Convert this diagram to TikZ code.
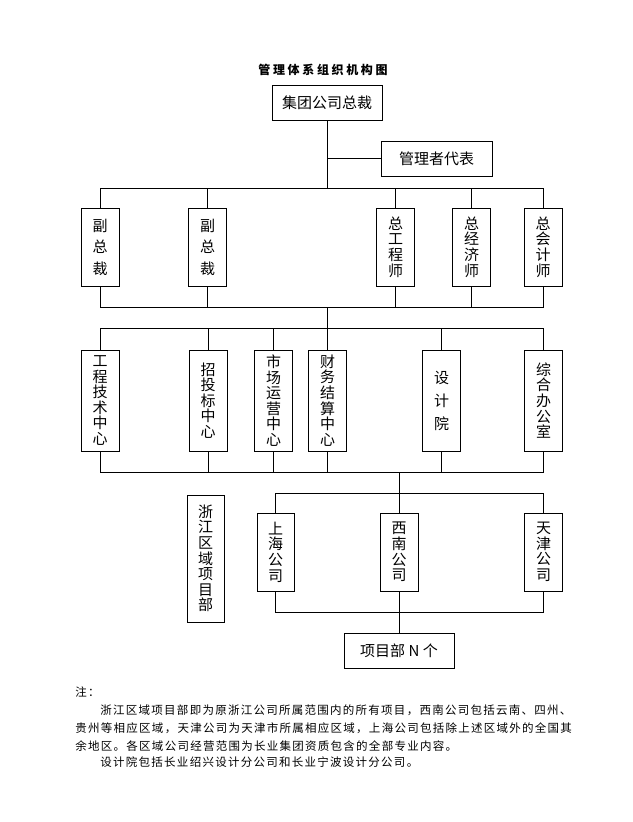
\documentclass[tikz,border=0pt]{standalone}
\usepackage{fontspec}
\usepackage{tikz}
\usetikzlibrary{calc,positioning}
\newfontfamily\cjk{Noto Sans CJK SC}

\begin{document}
\begin{tikzpicture}[x=1pt, y=-1pt, line width=0.8pt,
  every node/.style={inner sep=0pt, font=\cjk\fontsize{15}{15.6}\selectfont},
  box/.style={draw, minimum width=110pt, minimum height=35pt},
  vbox/.style={draw, align=center, minimum width=38pt},
  note/.style={anchor=west, font=\cjk\fontsize{11.5}{13}\selectfont\addfontfeature{LetterSpace=11}}]
\useasboundingbox (0,0) rectangle (632,822);
\node[font=\cjk\bfseries\fontsize{12}{14}\selectfont\addfontfeature{LetterSpace=22}] (t) at (323,70) {管理体系组织机构图};
\node[box] (zc) at (327,102.5) {集团公司总裁};
\node[box, minimum width=111pt] (db) at (436.5,158.5) {管理者代表};

\node[vbox, minimum height=78pt, font=\cjk\fontsize{15}{21.5}\selectfont] (fz1) at (100,247) {副\\总\\裁};
\node[vbox, minimum height=78pt, font=\cjk\fontsize{15}{21.5}\selectfont] (fz2) at (207.5,247) {副\\总\\裁};
\node[vbox, minimum height=78pt] (zg) at (395.5,247) {总\\工\\程\\师};
\node[vbox, minimum height=78pt] (zj) at (471.5,247) {总\\经\\济\\师};
\node[vbox, minimum height=78pt] (zk) at (543,247) {总\\会\\计\\师};

\node[vbox, minimum height=101pt] (gc) at (100,400.5) {工\\程\\技\\术\\中\\心};
\node[vbox, minimum height=101pt] (zt) at (208,400.5) {招\\投\\标\\中\\心};
\node[vbox, minimum height=101pt] (sc) at (273.5,400.5) {市\\场\\运\\营\\中\\心};
\node[vbox, minimum height=101pt] (cw) at (327.5,400.5) {财\\务\\结\\算\\中\\心};
\node[vbox, minimum height=101pt, font=\cjk\fontsize{15}{23}\selectfont] (sj) at (441.5,400.5) {设\\计\\院};
\node[vbox, minimum height=101pt] (zh) at (543.5,400.5) {综\\合\\办\\公\\室};

\node[vbox, minimum width=37pt, minimum height=127pt] (zq) at (205.5,558.5) {浙\\江\\区\\域\\项\\目\\部};
\node[vbox, minimum width=37pt, minimum height=78pt] (sh) at (275.5,552) {上\\海\\公\\司};
\node[vbox, minimum height=78pt] (xn) at (399,552) {西\\南\\公\\司};
\node[vbox, minimum height=78pt] (tj) at (543.5,552) {天\\津\\公\\司};
\node[box] (xm) at (399,650.5) {项目部 N 个};

\coordinate (b1) at (327,188);
\coordinate (b2) at (327,307);
\coordinate (b3) at (327,328);
\coordinate (b4) at (399,472);
\coordinate (b5) at (399,493);
\coordinate (b6) at (399,612);
\draw (zc.south) -- (b1);
\draw (db.west) -- (db.west -| zc.south);
\foreach \n in {fz1,fz2,zg,zj,zk}{\draw (\n.north) |- (b1); \draw (\n.south) |- (b2);}
\draw (b2) -- (b3);
\foreach \n in {gc,zt,sc,cw,sj,zh}{\draw (\n.north) |- (b3); \draw (\n.south) |- (b4);}
\draw (b4) -- (b5);
\foreach \n in {sh,xn,tj}{\draw (\n.north) |- (b5); \draw (\n.south) |- (b6);}
\draw (b6) -- (xm.north);

\node[note] (n0) at (75,692) {注：};
\node[note] (n1) at (100,710) {浙江区域项目部即为原浙江公司所属范围内的所有项目，西南公司包括云南、四州、};
\node[note] (n2) at (75,728) {贵州等相应区域，天津公司为天津市所属相应区域，上海公司包括除上述区域外的全国其};
\node[note] (n3) at (75,746) {余地区。各区域公司经营范围为长业集团资质包含的全部专业内容。};
\node[note] (n4) at (100,762) {设计院包括长业绍兴设计分公司和长业宁波设计分公司。};
\end{tikzpicture}
\end{document}
